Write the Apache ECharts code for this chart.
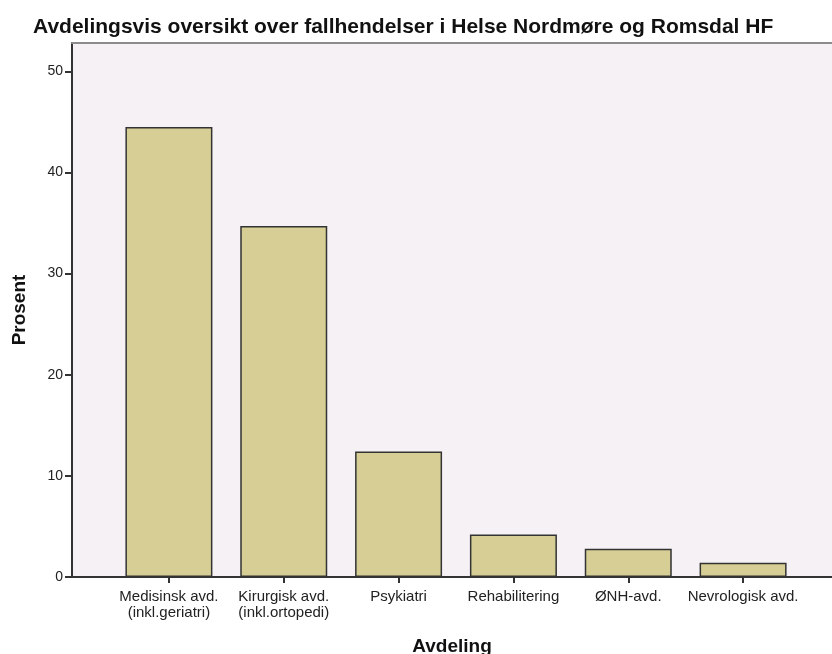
<!DOCTYPE html>
<html>
<head>
<meta charset="utf-8">
<script src="https://cdn.jsdelivr.net/npm/echarts@6/dist/echarts.min.js"></script>
<style>
  html, body { margin: 0; padding: 0; background: #fff; }
  #chart { width: 832px; height: 654px; }
</style>
</head>
<body>
<div id="chart"></div>
<script>
// avdelinger og prosentandel fall
var categories = ['Medisinsk avd.\n(inkl.geriatri)', 'Kirurgisk avd.\n(inkl.ortopedi)', 'Psykiatri', 'Rehabilitering', 'ØNH-avd.', 'Nevrologisk avd.'];
var prosent = [44.5, 34.7, 12.4, 4.2, 2.8, 1.4];
var yTicks = [0, 10, 20, 30, 40, 50];
var yMax = 52.8;

var font = '"Liberation Sans", Arial, sans-serif';
var chart = echarts.init(document.getElementById('chart'), null, { renderer: 'canvas' });

var option = {
    backgroundColor: '#ffffff',
    animation: false,
    title: {
        text: 'Avdelingsvis oversikt over fallhendelser i Helse Nordmøre og Romsdal HF',
        left: 28,
        top: 12,
        textStyle: { fontFamily: font, fontSize: 21, fontWeight: 'bold', color: '#111' }
    },
    grid: [
        // rammen / bakgrunn
        { left: 72, right: 0, top: 43, bottom: 77, outerBoundsMode: 'none', show: true, backgroundColor: '#f6f1f5', borderWidth: 0 },
        // stolpene
        { left: 111.5, right: 31.5, top: 43, bottom: 77, outerBoundsMode: 'none' }
    ],
    xAxis: [
        {
            gridIndex: 0, type: 'value', min: 0, max: 1, position: 'bottom',
            name: 'Avdeling', nameLocation: 'middle', nameGap: 60,
            nameTextStyle: { fontFamily: font, fontSize: 19, fontWeight: 'bold', color: '#111' },
            axisLine: { show: true, lineStyle: { color: '#333', width: 2 } },
            axisTick: { show: false }, axisLabel: { show: false }, splitLine: { show: false }
        },
        {
            gridIndex: 0, type: 'value', min: 0, max: 1, position: 'top',
            axisLine: { show: true, lineStyle: { color: '#8c8c8c', width: 2 } },
            axisTick: { show: false }, axisLabel: { show: false }, splitLine: { show: false }
        },
        {
            gridIndex: 1, type: 'category', data: categories,
            axisLine: { show: false },
            axisTick: { show: true, alignWithLabel: true, length: 6, lineStyle: { color: '#333', width: 2 } },
            axisLabel: { fontFamily: font, fontSize: 15, color: '#222', margin: 12, lineHeight: 16, interval: 0 }
        }
    ],
    yAxis: [
        {
            gridIndex: 0, type: 'value', min: 0, max: yMax,
            name: 'Prosent', nameLocation: 'middle', nameGap: 43, nameRotate: 90,
            nameTextStyle: { fontFamily: font, fontSize: 19, fontWeight: 'bold', color: '#111' },
            axisLine: { show: true, lineStyle: { color: '#333', width: 2 } },
            axisTick: { show: true, length: 7, customValues: yTicks, lineStyle: { color: '#333', width: 2 } },
            axisLabel: { fontFamily: font, fontSize: 14, color: '#222', margin: 9, customValues: yTicks },
            splitLine: { show: false }
        },
        {
            gridIndex: 1, type: 'value', min: 0, max: yMax, show: false
        }
    ],
    series: [{
        type: 'bar',
        xAxisIndex: 2,
        yAxisIndex: 1,
        data: prosent,
        barWidth: 87,
        itemStyle: { color: '#d6ce95', borderColor: '#333', borderWidth: 1.5 }
    }]
};

chart.setOption(option);
</script>
</body>
</html>
